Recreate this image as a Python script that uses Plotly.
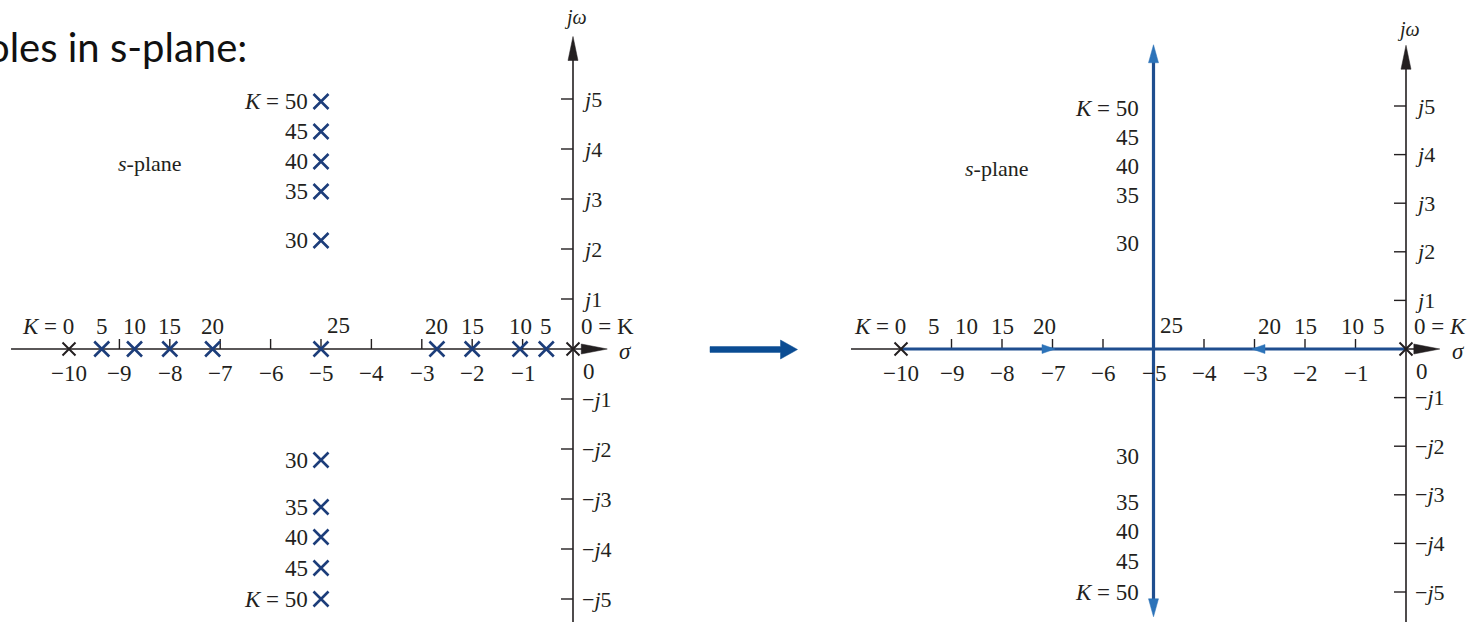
import plotly.graph_objects as go

# ---------------- data ----------------
sigma_ticks = [-10, -9, -8, -7, -6, -5, -4, -3, -2, -1]
sigma_tick_text = ["−10", "−9", "−8", "−7", "−6", "−5", "−4", "−3", "−2", "−1"]
omega_ticks = [5, 4, 3, 2, 1, -1, -2, -3, -4, -5]
omega_tick_text = ["<i>j</i>5", "<i>j</i>4", "<i>j</i>3", "<i>j</i>2", "<i>j</i>1",
                   "−<i>j</i>1", "−<i>j</i>2", "−<i>j</i>3", "−<i>j</i>4", "−<i>j</i>5"]

open_loop_poles = [-10, 0]                 # K = 0
gain_real = [5, 10, 15, 20]
pole_left_branch = [-9.35, -8.7, -8.0, -7.15]
pole_right_branch = [-0.53, -1.05, -2.0, -2.7]
gain_break = 25
pole_break = -5.0
gain_cplx = [30, 35, 40, 45, 50]
sigma_cplx = -5.0
omega_upper = [2.17, 3.15, 3.75, 4.35, 4.95]
omega_lower = [-2.22, -3.16, -3.76, -4.38, -5.0]

# ---------------- styling ----------------
W, H = 1474, 622
INK = "#231f20"
POLE_BLUE = "#1c3d7a"
LOCUS = "#1f4e8f"
LOCUS_HEAD = "#2c73b9"
ARROW_BLUE = "#0b4c93"
SERIF = "Liberation Serif"
FS = 23

# pixel scale of each panel (px per unit)
PX = {"x": 50.4, "y": 50.0, "x2": 50.5, "y2": 48.6}

fig = go.Figure()
shapes, annotations = [], []


def line(xr, yr, x0, y0, x1, y1, color=INK, width=1.6, layer="below"):
    shapes.append(dict(type="line", xref=xr, yref=yr, x0=x0, y0=y0, x1=x1, y1=y1,
                       line=dict(color=color, width=width), layer=layer))


def tri(xr, yr, tx, ty, dx, dy, length, half, color):
    """Filled arrowhead with tip (tx, ty) pointing along (dx, dy); sizes in px."""
    sx, sy = PX[xr], PX[yr]
    bx, by = tx - dx * length / sx, ty - dy * length / sy
    px_, py_ = -dy * half / sx, dx * half / sy
    path = (f"M {tx},{ty} L {bx + px_},{by + py_} L {bx - px_},{by - py_} Z")
    shapes.append(dict(type="path", xref=xr, yref=yr, path=path,
                       fillcolor=color, line=dict(color=color, width=0.5), layer="above"))


def text(xr, yr, x, y, s, xanchor="center", yanchor="middle", xshift=0, yshift=0, size=FS):
    annotations.append(dict(xref=xr, yref=yr, x=x, y=y, text=s, showarrow=False,
                            xanchor=xanchor, yanchor=yanchor, xshift=xshift, yshift=yshift,
                            font=dict(family=SERIF, size=size, color=INK)))


def axes(xr, yr, x_start, x_tip, y_tip, y_bottom, jw_shift, splane_xy):
    # σ axis
    line(xr, yr, x_start, 0, x_tip - 20 / PX[xr], 0)
    tri(xr, yr, x_tip, 0, 1, 0, 26, 5, INK)
    text(xr, yr, x_tip, 0, "<i>σ</i>", xanchor="left", xshift=10, yshift=-2)
    # jω axis
    line(xr, yr, 0, y_bottom, 0, y_tip - 20 / PX[yr])
    tri(xr, yr, 0, y_tip, 0, 1, 24, 5, INK)
    text(xr, yr, 0, y_tip, "<i>jω</i>", yshift=jw_shift, xshift=2, size=20)
    # ticks on σ axis (upward) with labels below
    for v, s in zip(sigma_ticks, sigma_tick_text):
        if v != -10:
            line(xr, yr, v, 0, v, 10 / PX[yr], width=1.4)
        text(xr, yr, v, 0, s, yshift=-24)
    text(xr, yr, 0, 0, "0", xanchor="left", xshift=8, yshift=-22)
    # ticks on jω axis (leftward) with labels right of axis
    for v, s in zip(omega_ticks, omega_tick_text):
        line(xr, yr, -12 / PX[xr], v, 0, v, width=1.4)
        text(xr, yr, 0, v, s, xanchor="left", xshift=7, size=22)
    text(xr, yr, splane_xy[0], splane_xy[1], "<i>s</i>-plane", size=22)


def real_axis_labels(xr, yr, k_end_label):
    text(xr, yr, open_loop_poles[0], 0, "<i>K</i> = 0", xanchor="right", xshift=7, yshift=23)
    text(xr, yr, open_loop_poles[1], 0, k_end_label, xanchor="left", xshift=6, yshift=23)
    for k, a, b in zip(gain_real, pole_left_branch, pole_right_branch):
        text(xr, yr, a, 0, str(k), yshift=23)
        text(xr, yr, b, 0, str(k), yshift=23)
    text(xr, yr, pole_break, 0, str(gain_break), xanchor="left", xshift=4, yshift=24)


def cplx_labels(xr, yr, xshift):
    for k, wu, wl in zip(gain_cplx, omega_upper, omega_lower):
        s = f"<i>K</i> = {k}" if k == gain_cplx[-1] else str(k)
        text(xr, yr, sigma_cplx, wu, s, xanchor="right", xshift=xshift)
        text(xr, yr, sigma_cplx, wl, s, xanchor="right", xshift=xshift)


# ---------------- left panel: closed-loop poles ----------------
axes("x", "y", -11.15, 0.68, 6.25, -5.6, 19, (-8.4, 3.72))
real_axis_labels("x", "y", "0 = K")
cplx_labels("x", "y", -11)

blue_x = pole_left_branch + pole_right_branch + [pole_break] + [sigma_cplx] * 10
blue_y = [0] * 9 + omega_upper + omega_lower
fig.add_trace(go.Scatter(x=blue_x, y=blue_y, xaxis="x", yaxis="y", mode="markers",
                         marker=dict(symbol="x-thin", size=15,
                                     line=dict(color=POLE_BLUE, width=2.6)),
                         hoverinfo="skip", showlegend=False))
fig.add_trace(go.Scatter(x=open_loop_poles, y=[0, 0], xaxis="x", yaxis="y", mode="markers",
                         marker=dict(symbol="x-thin", size=13, line=dict(color=INK, width=2)),
                         hoverinfo="skip", showlegend=False))

# ---------------- right panel: root locus ----------------
axes("x2", "y2", -10.99, 0.67, 6.25, -5.8, 16, (-8.1, 3.72))
real_axis_labels("x2", "y2", "0 = <i>K</i>")
cplx_labels("x2", "y2", -13)

LOCUS_TOP, LOCUS_BOTTOM = 6.26, -5.51
fig.add_trace(go.Scatter(x=open_loop_poles, y=[0, 0], xaxis="x2", yaxis="y2", mode="lines",
                         line=dict(color=LOCUS, width=3.2), hoverinfo="skip", showlegend=False))
fig.add_trace(go.Scatter(x=[pole_break, pole_break], y=[LOCUS_BOTTOM + 0.25, LOCUS_TOP - 0.25],
                         xaxis="x2", yaxis="y2", mode="lines",
                         line=dict(color=LOCUS, width=3.2), hoverinfo="skip", showlegend=False))
tri("x2", "y2", pole_break, LOCUS_TOP, 0, 1, 18, 5, LOCUS_HEAD)
tri("x2", "y2", pole_break, LOCUS_BOTTOM, 0, -1, 18, 5, LOCUS_HEAD)
tri("x2", "y2", -6.95, 0, 1, 0, 13, 4.5, LOCUS_HEAD)
tri("x2", "y2", -3.05, 0, -1, 0, 13, 4.5, LOCUS_HEAD)
fig.add_trace(go.Scatter(x=open_loop_poles, y=[0, 0], xaxis="x2", yaxis="y2", mode="markers",
                         marker=dict(symbol="x-thin", size=13, line=dict(color=INK, width=2)),
                         hoverinfo="skip", showlegend=False))

# ---------------- connecting arrow between panels ----------------
def p(xpx, ypx):
    return f"{xpx / W},{1 - ypx / H}"


shapes.append(dict(type="path", xref="paper", yref="paper", layer="above",
                   path=(f"M {p(710, 346.6)} L {p(780.5, 346.6)} L {p(780.5, 340)} "
                         f"L {p(797.5, 349.5)} L {p(780.5, 359)} L {p(780.5, 352.4)} "
                         f"L {p(710, 352.4)} Z"),
                   fillcolor=ARROW_BLUE, line=dict(color=ARROW_BLUE, width=0.5)))

# heading (its start runs past the left edge of the page)
annotations.append(dict(xref="paper", yref="paper", x=249 / W, y=1 - 47 / H,
                        text="Poles in s-plane:", showarrow=False,
                        xanchor="right", yanchor="middle",
                        font=dict(family="Lato", size=40, color="#111111")))

half = 737 / W
fig.update_layout(
    width=W, height=H,
    margin=dict(l=0, r=0, t=0, b=0),
    paper_bgcolor="white", plot_bgcolor="white",
    xaxis=dict(domain=[0, half], range=[-10 - 69 / 50.4, (737 - 573) / 50.4], visible=False),
    yaxis=dict(domain=[0, 1], range=[-273 / 50.0, 349 / 50.0], visible=False),
    xaxis2=dict(domain=[half, 1], range=[-10 - (901 - 737) / 50.5, (1474 - 1406) / 50.5],
                visible=False, anchor="y2"),
    yaxis2=dict(domain=[0, 1], range=[-273 / 48.6, 349 / 48.6], visible=False, anchor="x2"),
    shapes=shapes,
    annotations=annotations,
)

fig.write_html("out.html")
